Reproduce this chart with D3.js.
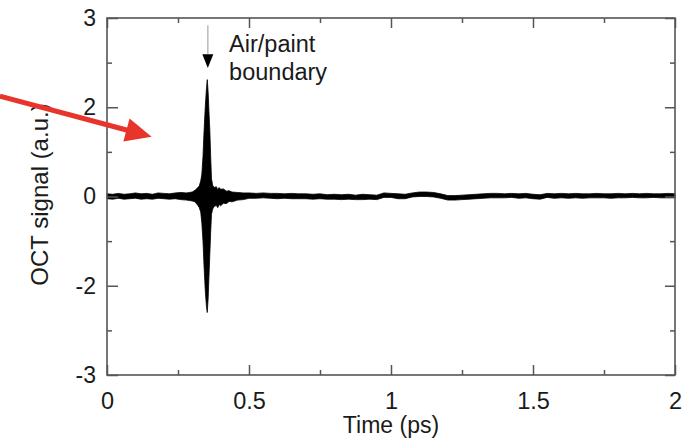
<!DOCTYPE html>
<html>
<head>
<meta charset="utf-8">
<script src="https://cdn.jsdelivr.net/npm/d3@7"></script>
<style>
  body { margin: 0; background: #fff; }
  text { font-family: "Liberation Sans", Arial, sans-serif; fill: #1a1a1a; }
</style>
</head>
<body>
<div id="chart"></div>
<script>
// OCT trace, drawn as the envelope of the fast oscillation (upper / lower edge)
const time = [0.00, 0.02, 0.04, 0.06, 0.08, 0.10, 0.12, 0.14, 0.16, 0.18, 0.20, 0.22, 0.24, 0.26, 0.28, 0.29, 0.30,
  0.31, 0.32, 0.325, 0.33, 0.334, 0.338, 0.342, 0.346, 0.350, 0.353, 0.356, 0.359, 0.362, 0.365, 0.368, 0.372, 0.378,
  0.385, 0.39, 0.395, 0.40, 0.41, 0.42, 0.43, 0.44, 0.46, 0.48,
  0.500, 0.525, 0.550, 0.575, 0.600, 0.625, 0.650, 0.675, 0.700, 0.725, 0.750, 0.775, 0.800, 0.825, 0.850, 0.875,
  0.900, 0.925, 0.950, 0.975, 1.000, 1.025, 1.050, 1.075, 1.100, 1.125, 1.150, 1.175, 1.200, 1.225, 1.250, 1.275,
  1.300, 1.325, 1.350, 1.375, 1.400, 1.425, 1.450, 1.475, 1.500, 1.525, 1.550, 1.575, 1.600, 1.625, 1.650, 1.675,
  1.700, 1.725, 1.750, 1.775, 1.800, 1.825, 1.850, 1.875, 1.900, 1.925, 1.950, 1.975, 2.000];

const upper = [0.06, 0.05, 0.07, 0.05, 0.06, 0.08, 0.06, 0.07, 0.05, 0.08, 0.07, 0.06, 0.08, 0.09, 0.08, 0.09, 0.10,
  0.14, 0.20, 0.24, 0.35, 0.50, 0.90, 1.50, 2.00, 2.40, 2.62, 2.35, 1.90, 1.50, 0.90, 0.40, 0.25, 0.20,
  0.22, 0.15, 0.20, 0.16, 0.17, 0.12, 0.13, 0.10, 0.09, 0.08,
  0.08, 0.07, 0.08, 0.07, 0.07, 0.06, 0.07, 0.06, 0.06, 0.05, 0.06, 0.04, 0.05, 0.04, 0.05, 0.03,
  0.05, 0.04, 0.03, 0.08, 0.07, 0.06, 0.05, 0.08, 0.10, 0.10, 0.09, 0.06, 0.02, 0.02, 0.03, 0.04,
  0.05, 0.06, 0.07, 0.07, 0.06, 0.07, 0.06, 0.07, 0.05, 0.04, 0.07, 0.06, 0.07, 0.06, 0.07, 0.06,
  0.06, 0.07, 0.06, 0.06, 0.07, 0.06, 0.07, 0.06, 0.07, 0.06, 0.06, 0.07, 0.06];

const lower = [-0.05, -0.06, -0.04, -0.06, -0.05, -0.04, -0.06, -0.05, -0.06, -0.04, -0.05, -0.06, -0.05, -0.07, -0.08, -0.09, -0.10,
  -0.12, -0.20, -0.25, -0.35, -0.60, -1.00, -1.60, -2.10, -2.45, -2.60, -2.30, -1.80, -1.30, -0.80, -0.40, -0.28, -0.22,
  -0.20, -0.25, -0.18, -0.21, -0.15, -0.16, -0.11, -0.12, -0.08, -0.07,
  -0.04, -0.04, -0.03, -0.04, -0.05, -0.04, -0.05, -0.05, -0.05, -0.06, -0.05, -0.06, -0.06, -0.07, -0.06, -0.07,
  -0.07, -0.06, -0.07, -0.02, -0.02, -0.05, -0.05, -0.01, 0.00, 0.00, -0.01, -0.04, -0.08, -0.08, -0.07, -0.06,
  -0.05, -0.04, -0.03, -0.03, -0.03, -0.02, -0.04, -0.03, -0.05, -0.06, -0.02, -0.04, -0.03, -0.04, -0.03, -0.04,
  -0.03, -0.03, -0.03, -0.04, -0.03, -0.03, -0.02, -0.03, -0.03, -0.02, -0.03, -0.03, -0.03];

// axes: y runs over 8 tick steps, labelled as in the figure
const xMajor = [0, 0.5, 1, 1.5, 2];
const xMinor = [0.25, 0.75, 1.25, 1.75];
const xTickLabels = ["0", "0.5", "1", "1.5", "2"];
const yMajor = [-4, -2, 0, 2, 4];
const yMinor = [-3, -1, 1, 3];
const yTickLabels = ["-3", "-2", "0", "2", "3"];

// annotations in data units
const boundaryTime = 0.355;
const boundaryText = ["Air/paint", "boundary"];
const redArrow = { from: [-0.377, 2.25], to: [0.157, 1.34] };

const W = 698, H = 441;
const margin = { top: 18, right: 23, bottom: 66, left: 107 };
const width = W - margin.left - margin.right;
const height = H - margin.top - margin.bottom;

const svg = d3.select("#chart").append("svg")
  .attr("width", W).attr("height", H);
const g = svg.append("g")
  .attr("transform", `translate(${margin.left},${margin.top})`);

const x = d3.scaleLinear().domain([0, 2]).range([0, width]);
const y = d3.scaleLinear().domain([-4, 4]).range([height, 0]);

// signal
const rows = time.map((t, i) => ({ t, hi: upper[i], lo: lower[i] }));
g.append("path")
  .datum(rows)
  .attr("d", d3.area().x(d => x(d.t)).y0(d => y(d.lo)).y1(d => y(d.hi)))
  .attr("fill", "#000")
  .attr("stroke", "#000")
  .attr("stroke-width", 0.8)
  .attr("stroke-linejoin", "round");

// axes with inward ticks
const axisColor = "#555";
function styleAxis(sel) {
  sel.select(".domain").remove();
  sel.selectAll(".tick line").attr("stroke", axisColor).attr("stroke-width", 1.5);
}

g.append("g").attr("transform", `translate(0,${height})`)
  .call(d3.axisBottom(x).tickValues(xMajor).tickSize(-10).tickFormat((d, i) => xTickLabels[i]))
  .call(styleAxis)
  .call(s => s.selectAll("text").attr("y", 34).attr("dy", 0).attr("font-size", 23.5).attr("fill", "#1a1a1a"));
g.append("g").attr("transform", `translate(0,${height})`)
  .call(d3.axisBottom(x).tickValues(xMinor).tickSize(-5).tickFormat(""))
  .call(styleAxis);
g.append("g")
  .call(d3.axisTop(x).tickValues(xMajor).tickSize(-10).tickFormat(""))
  .call(styleAxis);
g.append("g")
  .call(d3.axisTop(x).tickValues(xMinor).tickSize(-5).tickFormat(""))
  .call(styleAxis);

g.append("g")
  .call(d3.axisLeft(y).tickValues(yMajor).tickSize(-11).tickPadding(11).tickFormat((d, i) => yTickLabels[i]))
  .call(styleAxis)
  .call(s => s.selectAll("text").attr("font-size", 23).attr("fill", "#1a1a1a"));
g.append("g")
  .call(d3.axisLeft(y).tickValues(yMinor).tickSize(-5).tickFormat(""))
  .call(styleAxis);
g.append("g").attr("transform", `translate(${width},0)`)
  .call(d3.axisRight(y).tickValues(yMajor).tickSize(-10).tickFormat(""))
  .call(styleAxis);
g.append("g").attr("transform", `translate(${width},0)`)
  .call(d3.axisRight(y).tickValues(yMinor).tickSize(-5).tickFormat(""))
  .call(styleAxis);

// frame
g.append("rect")
  .attr("width", width).attr("height", height)
  .attr("fill", "none").attr("stroke", axisColor).attr("stroke-width", 1.6);

// axis titles
g.append("text")
  .attr("x", width / 2).attr("y", height + 58)
  .attr("text-anchor", "middle").attr("font-size", 23)
  .text("Time (ps)");
g.append("text")
  .attr("transform", `translate(${-59},${height / 2 - 2}) rotate(-90)`)
  .attr("text-anchor", "middle").attr("font-size", 24)
  .text("OCT signal (a.u.)");

// boundary marker
const bx = x(boundaryTime);
g.append("line")
  .attr("x1", bx).attr("x2", bx).attr("y1", y(3.84)).attr("y2", y(3.19))
  .attr("stroke", "#bbb").attr("stroke-width", 1.5);
g.append("path")
  .attr("d", `M${bx - 5.5},${y(3.19)} L${bx + 5.5},${y(3.19)} L${bx},${y(2.88)} Z`)
  .attr("fill", "#000");
g.append("text")
  .attr("x", x(0.43)).attr("y", y(3.24))
  .attr("font-size", 23.5)
  .selectAll("tspan").data(boundaryText).join("tspan")
  .attr("x", x(0.43)).attr("dy", (d, i) => i ? 28 : 0)
  .text(d => d);

// red pointer arrow
const p0 = [x(redArrow.from[0]), y(redArrow.from[1])];
const p1 = [x(redArrow.to[0]), y(redArrow.to[1])];
const ang = Math.atan2(p1[1] - p0[1], p1[0] - p0[0]);
const headLen = 26, headHalf = 12;
const base = [p1[0] - headLen * Math.cos(ang), p1[1] - headLen * Math.sin(ang)];
svg.append("g").attr("transform", `translate(${margin.left},${margin.top})`)
  .call(a => {
    a.append("line")
      .attr("x1", p0[0]).attr("y1", p0[1]).attr("x2", base[0] + 2 * Math.cos(ang)).attr("y2", base[1] + 2 * Math.sin(ang))
      .attr("stroke", "#e8352b").attr("stroke-width", 5);
    a.append("path")
      .attr("d", `M${p1[0]},${p1[1]}` +
        `L${base[0] + headHalf * Math.sin(ang)},${base[1] - headHalf * Math.cos(ang)}` +
        `L${base[0] - headHalf * Math.sin(ang)},${base[1] + headHalf * Math.cos(ang)}Z`)
      .attr("fill", "#e8352b");
  });
</script>
</body>
</html>
